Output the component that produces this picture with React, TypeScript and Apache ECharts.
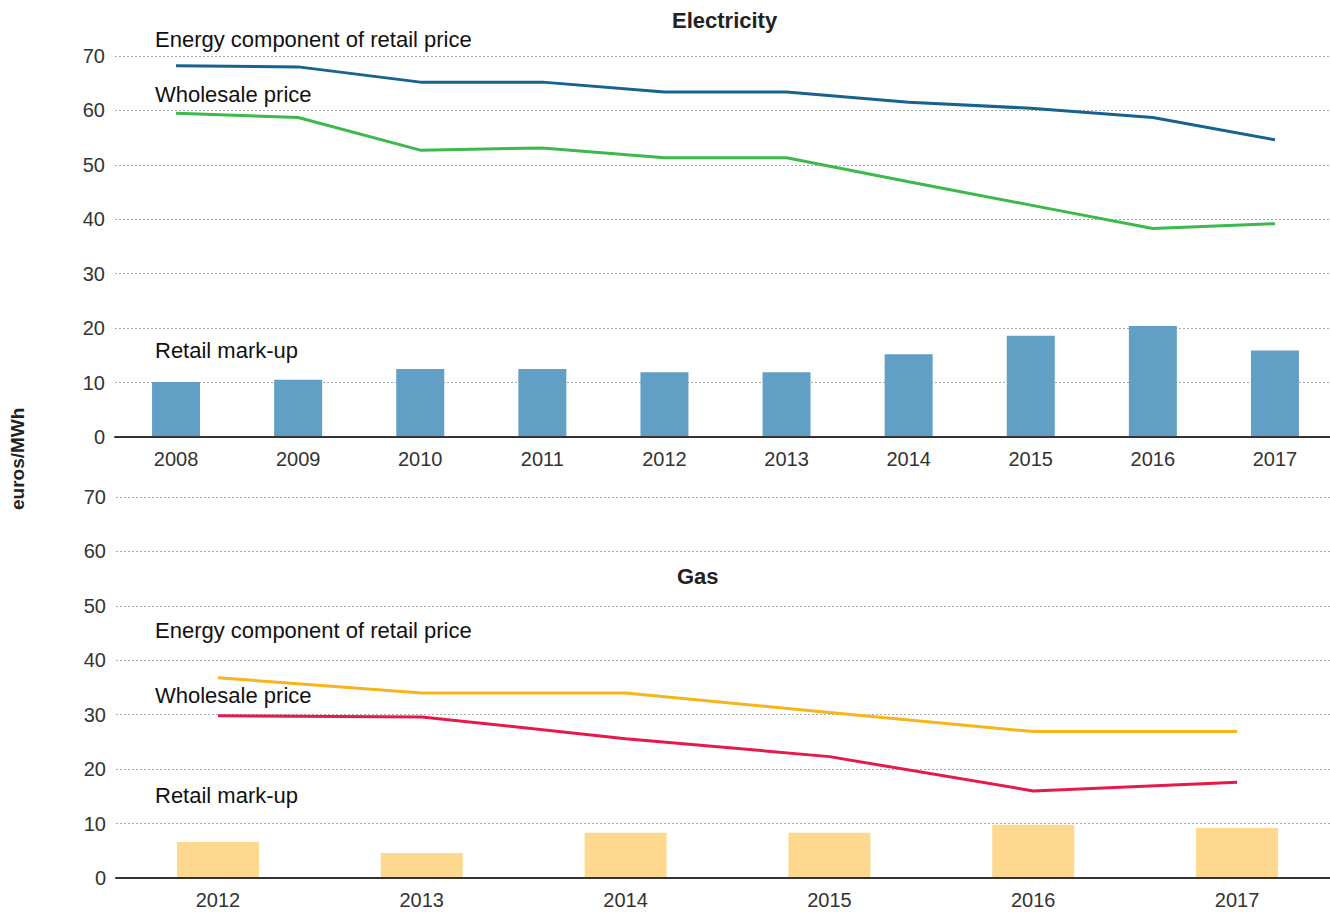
import React, { useEffect, useRef } from "react";
import * as echarts from "echarts";

const elecYears = ["2008", "2009", "2010", "2011", "2012", "2013", "2014", "2015", "2016", "2017"];
const elecEnergy = [68.2, 68.0, 65.2, 65.2, 63.4, 63.4, 61.5, 60.4, 58.7, 54.6];
const elecWholesale = [59.5, 58.7, 52.7, 53.1, 51.3, 51.3, 46.9, 42.6, 38.3, 39.2];
const elecMarkup = [10.1, 10.5, 12.5, 12.5, 11.9, 11.9, 15.2, 18.6, 20.4, 15.9];

const gasYears = ["2012", "2013", "2014", "2015", "2016", "2017"];
const gasEnergy = [36.8, 34.0, 34.0, 30.4, 26.9, 26.9];
const gasWholesale = [29.8, 29.6, 25.6, 22.3, 16.0, 17.6];
const gasMarkup = [6.6, 4.6, 8.3, 8.3, 9.8, 9.2];

const yTicks = [0, 10, 20, 30, 40, 50, 60, 70];

const FONT = "'Liberation Sans Narrow', 'Arial Narrow', 'Liberation Sans', sans-serif";

export default function App() {
  const ref = useRef<HTMLDivElement>(null);
  useEffect(() => {
    if (!ref.current) return;
    const chart = echarts.init(ref.current, undefined, { renderer: "svg" });
    const yAxisCommon = (gridIndex: number) => ({
      type: "value",
      gridIndex,
      min: yTicks[0],
      max: yTicks[yTicks.length - 1],
      interval: 10,
      axisLine: { show: false },
      axisTick: { show: false },
      axisLabel: { fontSize: 20, color: "#333", fontFamily: FONT, margin: 10 },
      splitLine: { lineStyle: { type: [2, 2], color: "#aaa", width: 1 } },
    });
    const xAxisCommon = (gridIndex: number, data: string[]) => ({
      type: "category",
      gridIndex,
      data,
      axisLine: { lineStyle: { color: "#333", width: 2 } },
      axisTick: { show: false },
      axisLabel: { fontSize: 20, color: "#333", fontFamily: FONT, margin: 12 },
      z: 5,
    });
    const labelStyle = { fontSize: 22, fill: "#111", fontFamily: FONT };
    chart.setOption({
      animation: false,
      grid: [
        { left: 115, top: 56, width: 1221, height: 381 },
        { left: 116, top: 497, width: 1223, height: 381 },
      ],
      xAxis: [xAxisCommon(0, elecYears), xAxisCommon(1, gasYears)],
      yAxis: [yAxisCommon(0), yAxisCommon(1)],
      series: [
        {
          name: "Retail mark-up",
          type: "bar",
          xAxisIndex: 0,
          yAxisIndex: 0,
          data: elecMarkup,
          barWidth: 48,
          itemStyle: { color: "#619fc4" },
        },
        {
          name: "Energy component of retail price",
          type: "line",
          xAxisIndex: 0,
          yAxisIndex: 0,
          data: elecEnergy,
          symbol: "none",
          lineStyle: { color: "#17628f", width: 3 },
        },
        {
          name: "Wholesale price",
          type: "line",
          xAxisIndex: 0,
          yAxisIndex: 0,
          data: elecWholesale,
          symbol: "none",
          lineStyle: { color: "#3cb94a", width: 3 },
        },
        {
          name: "Retail mark-up",
          type: "bar",
          xAxisIndex: 1,
          yAxisIndex: 1,
          data: gasMarkup,
          barWidth: 82,
          itemStyle: { color: "#fdd88e" },
        },
        {
          name: "Energy component of retail price",
          type: "line",
          xAxisIndex: 1,
          yAxisIndex: 1,
          data: gasEnergy,
          symbol: "none",
          lineStyle: { color: "#f7b51b", width: 3 },
        },
        {
          name: "Wholesale price",
          type: "line",
          xAxisIndex: 1,
          yAxisIndex: 1,
          data: gasWholesale,
          symbol: "none",
          lineStyle: { color: "#e6194b", width: 3 },
        },
      ],
      graphic: [
        { type: "text", left: 672, top: 9, style: { text: "Electricity", fontSize: 22, fontWeight: "bold", fill: "#222", fontFamily: FONT } },
        { type: "text", left: 677, top: 565, style: { text: "Gas", fontSize: 22, fontWeight: "bold", fill: "#222", fontFamily: FONT } },
        { type: "text", x: 155, y: 28, style: { text: "Energy component of retail price", ...labelStyle } },
        { type: "text", x: 155, y: 83, style: { text: "Wholesale price", ...labelStyle } },
        { type: "text", x: 155, y: 339, style: { text: "Retail mark-up", ...labelStyle } },
        { type: "text", x: 155, y: 619, style: { text: "Energy component of retail price", ...labelStyle } },
        { type: "text", x: 155, y: 684, style: { text: "Wholesale price", ...labelStyle } },
        { type: "text", x: 155, y: 784, style: { text: "Retail mark-up", ...labelStyle } },
        {
          type: "text",
          x: 8,
          y: 510,
          rotation: Math.PI / 2,
          style: { text: "euros/MWh", fontSize: 19, fontWeight: "bold", fill: "#222", fontFamily: FONT },
        },
      ],
    });
    return () => chart.dispose();
  }, []);
  return (
    <div style={{ position: "absolute", left: 0, top: 0, width: 1330, height: 912, overflow: "hidden" }}>
      <div ref={ref} style={{ width: 1345, height: 912 }} />
    </div>
  );
}
